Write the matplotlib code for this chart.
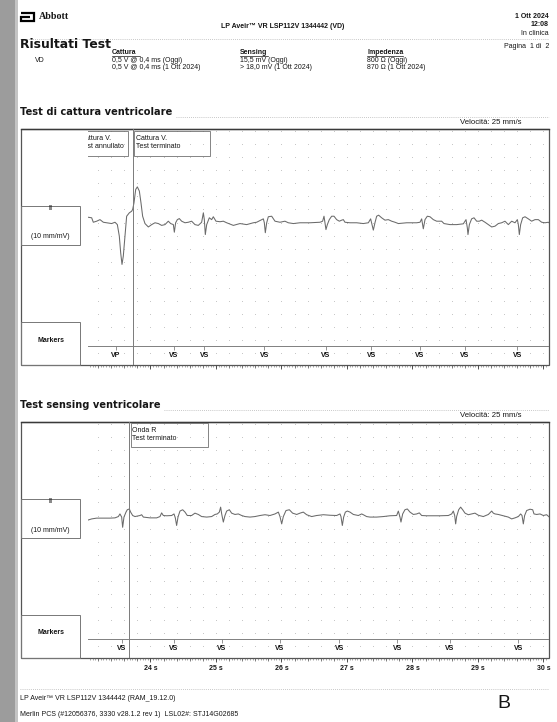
import matplotlib.pyplot as plt
import numpy as np
from matplotlib.patches import Rectangle

plt.rcParams['font.family'] = ['Liberation Sans', 'DejaVu Sans']

W, H = 557, 722

# ECG strips: (time s, amplitude mV)
capture_trace = [
    (23.051, 0.20), (23.102, 0.18), (23.127, 0.01), (23.178, 0.05), (23.229, 0.11),
    (23.280, 0.01), (23.331, -0.01), (23.407, -0.04), (23.458, 0.01), (23.494, -0.08),
    (23.524, -0.52), (23.545, -1.16), (23.565, -1.60), (23.585, -1.28), (23.611, -0.52),
    (23.636, 0.24), (23.677, 0.37), (23.712, 0.43), (23.728, 0.50), (23.748, 0.75),
    (23.774, 1.26), (23.799, 1.36), (23.830, 1.20), (23.855, 0.75), (23.880, 0.24),
    (23.916, -0.04), (23.967, -0.17), (24.018, -0.08), (24.069, -0.01), (24.120, -0.04),
    (24.170, -0.11), (24.221, -0.08), (24.272, 0.05), (24.308, -0.04), (24.349, -0.08),
    (24.364, -0.37), (24.384, -0.01), (24.410, 0.11), (24.440, 0.15), (24.476, 0.05),
    (24.527, -0.01), (24.578, 0.01), (24.628, 0.05), (24.679, -0.08), (24.730, -0.11),
    (24.781, 0.01), (24.807, 0.37), (24.822, 0.11), (24.837, -0.46), (24.858, -0.08),
    (24.898, 0.18), (24.934, 0.11), (24.959, 0.22), (25.000, 0.05), (25.061, 0.03),
    (25.112, 0.05), (25.163, -0.01), (25.265, -0.11), (25.366, -0.04), (25.468, -0.08),
    (25.570, -0.01), (25.621, 0.01), (25.697, 0.11), (25.723, 0.14), (25.738, -0.01),
    (25.753, -0.39), (25.774, -0.01), (25.799, 0.22), (25.850, 0.24), (25.901, 0.05),
    (25.977, 0.01), (26.053, 0.05), (26.104, -0.01), (26.181, -0.04), (26.282, -0.01),
    (26.435, -0.01), (26.588, 0.01), (26.628, 0.05), (26.649, 0.24), (26.664, -0.01),
    (26.679, -0.27), (26.700, -0.08), (26.730, 0.11), (26.766, 0.24), (26.802, 0.24),
    (26.842, 0.11), (26.883, 0.05), (26.919, 0.09), (26.944, 0.11), (26.969, 0.01),
    (27.046, -0.01), (27.148, -0.01), (27.249, -0.04), (27.326, -0.01), (27.361, 0.14),
    (27.382, -0.08), (27.402, -0.29), (27.427, -0.01), (27.453, 0.24), (27.483, 0.28),
    (27.529, 0.18), (27.580, 0.09), (27.631, 0.11), (27.682, 0.05), (27.733, 0.01),
    (27.784, -0.04), (27.911, -0.01), (28.064, -0.01), (28.115, 0.01), (28.140, 0.14),
    (28.155, -0.08), (28.165, -0.24), (28.191, 0.11), (28.226, 0.24), (28.267, 0.22),
    (28.318, 0.11), (28.369, 0.05), (28.445, 0.05), (28.481, -0.04), (28.573, -0.08),
    (28.674, -0.08), (28.776, -0.05), (28.802, 0.05), (28.817, 0.11), (28.837, -0.20),
    (28.847, -0.46), (28.868, -0.08), (28.903, 0.14), (28.939, 0.18), (28.980, 0.05),
    (29.020, 0.05), (29.056, 0.09), (29.107, 0.01), (29.158, -0.08), (29.209, -0.17),
    (29.260, -0.14), (29.310, -0.04), (29.361, -0.01), (29.412, 0.05), (29.463, -0.08),
    (29.514, 0.05), (29.565, -0.01), (29.601, 0.11), (29.616, -0.08), (29.631, -0.46),
    (29.651, -0.08), (29.682, 0.18), (29.718, 0.22), (29.768, 0.14), (29.819, 0.05),
    (29.870, 0.11), (29.921, 0.11), (29.972, 0.01), (30.023, -0.01), (30.074, 0.01),
    (30.099, -0.04),
]
sensing_trace = [
    (23.051, -0.17), (23.102, -0.13), (23.178, -0.10), (23.280, -0.10), (23.382, -0.10),
    (23.458, -0.09), (23.509, -0.04), (23.534, 0.06), (23.560, -0.06), (23.575, -0.45),
    (23.595, -0.06), (23.626, 0.13), (23.646, 0.22), (23.677, 0.25), (23.697, 0.13),
    (23.728, 0.00), (23.763, -0.04), (23.840, 0.00), (23.865, 0.03), (23.891, -0.06),
    (23.992, -0.09), (24.094, -0.09), (24.145, -0.04), (24.170, 0.10), (24.196, 0.00),
    (24.247, -0.01), (24.323, 0.00), (24.359, 0.06), (24.379, -0.09), (24.399, -0.38),
    (24.420, -0.06), (24.450, 0.17), (24.491, 0.22), (24.527, 0.13), (24.562, 0.00),
    (24.628, 0.00), (24.679, 0.09), (24.730, 0.04), (24.781, -0.04), (24.858, -0.06),
    (24.934, -0.04), (24.985, 0.04), (25.020, 0.06), (25.051, 0.13), (25.071, 0.32),
    (25.087, 0.06), (25.112, -0.25), (25.137, 0.00), (25.163, 0.17), (25.204, 0.22),
    (25.239, 0.09), (25.290, 0.04), (25.341, 0.06), (25.392, 0.00), (25.443, -0.04),
    (25.519, -0.06), (25.595, -0.04), (25.672, 0.00), (25.748, 0.03), (25.824, 0.00),
    (25.901, 0.06), (25.952, 0.13), (25.977, -0.04), (26.003, -0.32), (26.028, -0.04),
    (26.069, 0.19), (26.120, 0.22), (26.170, 0.09), (26.232, 0.04), (26.282, 0.09),
    (26.333, 0.13), (26.384, 0.03), (26.461, -0.04), (26.537, 0.00), (26.639, 0.03),
    (26.740, 0.01), (26.842, 0.00), (26.893, 0.06), (26.908, -0.04), (26.929, -0.38),
    (26.949, -0.06), (26.975, 0.13), (27.005, 0.17), (27.046, 0.13), (27.097, 0.04),
    (27.173, 0.00), (27.224, 0.06), (27.249, 0.03), (27.300, -0.04), (27.351, -0.06),
    (27.453, -0.06), (27.555, -0.04), (27.656, -0.01), (27.758, 0.00), (27.784, 0.17),
    (27.809, -0.06), (27.824, -0.25), (27.850, 0.06), (27.885, 0.22), (27.921, 0.25),
    (27.962, 0.13), (28.013, 0.04), (28.064, 0.06), (28.104, 0.10), (28.140, 0.00),
    (28.216, -0.01), (28.420, -0.01), (28.547, 0.00), (28.598, 0.06), (28.623, 0.17),
    (28.644, 0.00), (28.659, -0.32), (28.674, -0.04), (28.705, 0.22), (28.735, 0.32),
    (28.766, 0.22), (28.802, 0.09), (28.852, 0.03), (28.903, 0.06), (28.954, 0.09),
    (29.005, 0.01), (29.081, -0.04), (29.158, 0.04), (29.209, 0.17), (29.234, 0.09),
    (29.260, 0.06), (29.310, 0.04), (29.387, -0.01), (29.463, -0.06), (29.514, -0.13),
    (29.565, -0.09), (29.616, -0.04), (29.651, 0.06), (29.672, 0.00), (29.692, -0.32),
    (29.712, 0.00), (29.743, 0.19), (29.794, 0.24), (29.835, 0.22), (29.855, 0.06),
    (29.896, 0.04), (29.947, 0.06), (29.997, 0.00), (30.048, 0.03), (30.089, -0.06),
]

capture_marker_t = [23.473, 24.359, 24.824, 25.740, 26.679, 27.374, 28.107, 28.802, 29.603]
capture_markers = ['VP', 'VS', 'VS', 'VS', 'VS', 'VS', 'VS', 'VS', 'VS']
sensing_marker_t = [23.565, 24.359, 25.092, 25.977, 26.885, 27.771, 28.573, 29.618]
sensing_markers = ['VS'] * 8
capture_cursor = 23.728
sensing_cursor = 23.672

time_ticks = [24, 25, 26, 27, 28, 29, 30]
time_labels = ['24 s', '25 s', '26 s', '27 s', '28 s', '29 s', '30 s']

measure_heads = ['Cattura', 'Sensing', 'Impedenza']
measure_today = ['0,5 V @ 0,4 ms (Oggi)', '15,5 mV (Oggi)', '800 \u03a9 (Oggi)']
measure_prev = ['0,5 V @ 0,4 ms (1 Ott 2024)', '> 18,0 mV (1 Ott 2024)', '870 \u03a9 (1 Ott 2024)']
measure_x = [112, 240, 367]

TXT = '#161616'
FRAME = '#555555'


def px_axes(fig, x0, y0, x1, y1):
    return fig.add_axes([x0 / W, 1 - y1 / H, (x1 - x0) / W, (y1 - y0) / H])


def draw_strip(fig, page, top, title, title_end, trace, mk_t, mk_lab, cursor, notes, show_time):
    hgt = 236
    page.text(20, top - 17, title, fontfamily='DejaVu Sans', fontweight='bold',
              fontsize=7.1, va='center', color=TXT)
    page.plot([title_end, 549], [top - 12, top - 12], color='#b5b5b5', lw=0.6, ls=(0, (1, 1.5)))
    page.text(522, top - 6.5, 'Velocit\u00e0: 25 mm/s', fontsize=5.6, ha='right', va='center', color=TXT)

    page.add_patch(Rectangle((21, top), 528, hgt, fill=False, ec=FRAME, lw=0.9))
    page.plot([21, 549], [top, top], color='#3a3a3a', lw=1.0)
    page.add_patch(Rectangle((21, top + 77), 59, 39, fill=False, ec='#777777', lw=0.7))
    page.add_patch(Rectangle((21, top + 193), 59, 43, fill=False, ec='#777777', lw=0.7))
    page.text(50.5, top + 79.5, 'II', fontsize=5, fontweight='bold', ha='center', va='center', color=TXT)
    page.text(50.5, top + 108, '(10 mm/mV)', fontsize=5, ha='center', va='center', color=TXT)
    page.text(50.5, top + 211, 'Markers', fontsize=5, fontweight='bold', ha='center', va='center', color=TXT)

    ax = px_axes(fig, 88, top, 549, top + hgt)
    ax.set_facecolor('none')
    ax.set_xlim(23.046, 30.084)
    ax.set_ylim(-5.44, 3.57)
    for s in ax.spines.values():
        s.set_visible(False)

    gx, gy = np.meshgrid(np.arange(23.2, 30.05, 0.2), np.arange(-5.0, 3.51, 0.5))
    ax.scatter(gx.ravel(), gy.ravel(), s=0.35, color='#b8b8b8', lw=0)

    t, mv = zip(*trace)
    ax.plot(t, mv, color='#6a6a6a', lw=0.75)
    ax.axvline(cursor, color='#7a7a7a', lw=0.7)

    ax.axhline(-4.71, color='#808080', lw=0.7)
    ax.vlines(mk_t, -4.86, -4.71, color='#808080', lw=0.6)
    for tm, lab in zip(mk_t, mk_lab):
        ax.text(tm, -5.09, lab, fontsize=5, fontweight='bold', ha='center', va='center', color=TXT)

    for x0, y0, x1, y1, tx, lines in notes:
        ax.add_patch(Rectangle((x0, top + y0), x1 - x0, y1 - y0, transform=page.transData,
                               fill=False, ec='#707070', lw=0.6))
        for i, ln in enumerate(lines):
            ax.text(tx, top + y0 + 7.5 + 8 * i, ln, transform=page.transData, fontsize=5,
                    va='center', color=TXT, clip_on=True)

    ax.set_yticks([])
    ax.set_xticks(time_ticks)
    ax.set_xticks(np.arange(23.08, 30.08, 0.04), minor=True)
    ax.tick_params(axis='x', which='major', length=3.2, width=0.6, color='#444444',
                   pad=1.6, labelsize=5, labelcolor=TXT, labelbottom=show_time)
    ax.tick_params(axis='x', which='minor', length=1.1, width=0.4, color='#666666')
    if show_time:
        ax.set_xticklabels(time_labels, fontweight='bold')
    sec = ax.secondary_xaxis('bottom')
    sec.set_xticks(np.arange(23.2, 30.05, 0.2))
    sec.tick_params(length=2.0, width=0.5, color='#555555', labelbottom=False)
    for s in sec.spines.values():
        s.set_visible(False)
    return ax


fig = plt.figure(figsize=(W / 100, H / 100), dpi=100)
page = fig.add_axes([0, 0, 1, 1])
page.set_xlim(0, W)
page.set_ylim(H, 0)
page.axis('off')

# scanned paper edge
page.add_patch(Rectangle((0, 0), 15, H, color='#9c9c9c', lw=0))
page.add_patch(Rectangle((15, 0), 3, H, color='#c4c4c4', lw=0))

# header
page.plot([20.5, 34, 34, 20.5, 20.5, 30], [12.5, 12.5, 21, 21, 16.8, 16.8],
          color='k', lw=1.6, solid_joinstyle='miter', solid_capstyle='butt')
page.text(39, 16.5, 'Abbott', fontfamily='Liberation Serif', fontweight='bold',
          fontsize=7.2, va='center', color=TXT)
page.text(283, 26.5, 'LP Aveir\u2122 VR LSP112V 1344442 (VD)', fontsize=5, fontweight='bold',
          ha='center', va='center', color=TXT)
page.text(549, 16, '1 Ott 2024', fontsize=5, fontweight='bold', ha='right', va='center', color=TXT)
page.text(549, 25, '12:08', fontsize=5, fontweight='bold', ha='right', va='center', color=TXT)
page.text(549, 33.5, 'In clinica', fontsize=5, ha='right', va='center', color=TXT)
page.plot([20, 549], [39, 39], color='#b5b5b5', lw=0.6, ls=(0, (1, 1.5)))
page.text(20, 45, 'Risultati Test', fontfamily='DejaVu Sans', fontweight='bold',
          fontsize=8.9, va='center', color=TXT)
page.text(549, 47, 'Pagina  1 di  2', fontsize=5, ha='right', va='center', color=TXT)

page.text(35, 60.5, 'VD', fontsize=5, va='center', color=TXT)
for x, head, v1, v2 in zip(measure_x, measure_heads, measure_today, measure_prev):
    page.text(x, 52.5, head, fontsize=5, fontweight='bold', va='center', color=TXT)
    page.text(x, 60.5, v1, fontsize=5, va='center', color=TXT)
    page.text(x, 67.5, v2, fontsize=5, va='center', color=TXT)
    page.plot([x, x + 4.0 * len(head)], [55.5, 55.5], color=TXT, lw=0.5)

draw_strip(fig, page, 129, 'Test di cattura ventricolare', 176, capture_trace,
           capture_marker_t, capture_markers, capture_cursor,
           [(76, 2, 128, 27, 79.5, ['Cattura V.', 'Test annullato']),
            (134, 2, 210, 27, 135.5, ['Cattura V.', 'Test terminato'])], False)
draw_strip(fig, page, 422, 'Test sensing ventricolare', 164, sensing_trace,
           sensing_marker_t, sensing_markers, sensing_cursor,
           [(131, 1, 208, 25, 132.5, ['Onda R', 'Test terminato'])], True)

# footer
page.plot([20, 549], [689, 689], color='#b5b5b5', lw=0.6, ls=(0, (1, 1.5)))
page.text(20, 698, 'LP Aveir\u2122 VR LSP112V 1344442 (RAM_19.12.0)', fontsize=5, va='center', color=TXT)
page.text(20, 714, 'Merlin PCS (#12056376, 3330 v28.1.2 rev 1)  LSL02#: STJ14G02685',
          fontsize=5, va='center', color=TXT)
page.text(504, 703, 'B', fontsize=14, ha='center', va='center', color=TXT)

fig.savefig('out.png', dpi=100)
